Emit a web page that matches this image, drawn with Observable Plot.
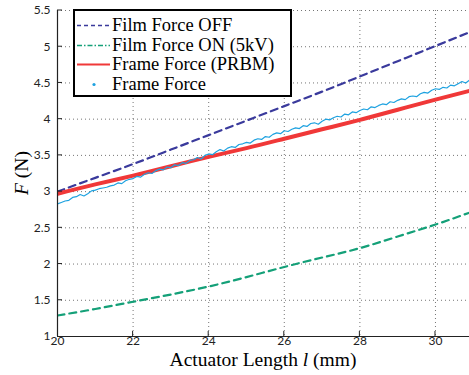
<!DOCTYPE html>
<html><head><meta charset="utf-8">
<script src="https://cdn.jsdelivr.net/npm/d3@7"></script>
<script src="https://cdn.jsdelivr.net/npm/@observablehq/plot@0.6"></script>
<style>
body{margin:0;background:#fff;}
#wrap{position:relative;width:469px;height:375px;overflow:hidden;}
#legend{position:absolute;left:73px;top:9px;width:215px;height:84px;border:2px solid #000;background:#fff;font-family:"Liberation Serif","Times New Roman",serif;font-size:18.5px;color:#000;overflow:hidden;}
#legend .row{position:absolute;left:0;height:19px;line-height:19px;white-space:nowrap;}
#legend svg{position:absolute;left:2px;top:0;}
#legend span{position:absolute;left:37px;top:0;}
</style></head><body><div id="wrap"></div>
<script>
// Model curves (sampled every 1 mm, last point at right edge)
const lengths = [20, 21, 22, 23, 24, 25, 26, 27, 28, 29, 30, 30.9];
const filmOff = [3.00, 3.19, 3.38, 3.58, 3.78, 3.98, 4.18, 4.38, 4.59, 4.80, 5.01, 5.20];
const filmOn  = [1.29, 1.38, 1.48, 1.58, 1.69, 1.82, 1.96, 2.09, 2.22, 2.38, 2.545, 2.71];
const prbm    = [2.97, 3.10, 3.22, 3.35, 3.48, 3.60, 3.73, 3.86, 3.99, 4.13, 4.27, 4.39];

// Measured frame force
const measuredLength = [20.0,20.1,20.2,20.3,20.4,20.5,20.6,20.7,20.8,20.9,
 21.0,21.1,21.2,21.3,21.4,21.5,21.6,21.7,21.8,21.9,
 22.0,22.1,22.2,22.3,22.4,22.5,22.6,22.7,22.8,22.9,
 23.0,23.1,23.2,23.3,23.4,23.5,23.6,23.7,23.8,23.9,
 24.0,24.1,24.2,24.3,24.4,24.5,24.6,24.7,24.8,24.9,
 25.0,25.1,25.2,25.3,25.4,25.5,25.6,25.7,25.8,25.9,
 26.0,26.1,26.2,26.3,26.4,26.5,26.6,26.7,26.8,26.9,
 27.0,27.1,27.2,27.3,27.4,27.5,27.6,27.7,27.8,27.9,
 28.0,28.1,28.2,28.3,28.4,28.5,28.6,28.7,28.8,28.9,
 29.0,29.1,29.2,29.3,29.4,29.5,29.6,29.7,29.8,29.9,
 30.0,30.1,30.2,30.3,30.4,30.5,30.6,30.7,30.8,30.9];
const measuredForce = [2.83,2.85,2.87,2.88,2.92,2.93,2.96,2.94,2.97,3.01,
 3.02,3.04,3.05,3.06,3.08,3.09,3.12,3.11,3.15,3.17,
 3.18,3.21,3.20,3.24,3.26,3.25,3.29,3.31,3.30,3.34,
 3.33,3.37,3.36,3.40,3.39,3.43,3.44,3.47,3.45,3.50,
 3.52,3.51,3.55,3.58,3.56,3.60,3.62,3.61,3.65,3.66,
 3.68,3.67,3.71,3.73,3.72,3.76,3.75,3.79,3.81,3.80,
 3.84,3.83,3.86,3.88,3.87,3.91,3.90,3.94,3.95,3.93,
 3.97,4.00,3.99,4.02,4.04,4.03,4.07,4.06,4.10,4.09,
 4.12,4.14,4.13,4.17,4.16,4.19,4.21,4.20,4.24,4.23,
 4.26,4.28,4.27,4.31,4.32,4.31,4.35,4.37,4.36,4.40,
 4.42,4.41,4.44,4.43,4.47,4.46,4.49,4.52,4.50,4.54];

const xTicks = [20, 22, 24, 26, 28, 30];
const yTicks = [1, 1.5, 2, 2.5, 3, 3.5, 4, 4.5, 5, 5.5];
const seriesNames = ["Film Force OFF", "Film Force ON (5kV)", "Frame Force (PRBM)", "Frame Force"];
const seriesColors = ["#3a3a9c", "#14a078", "#f03838", "#1ea2e0"];

const model = lengths.map((l, i) => ({l, off: filmOff[i], on: filmOn[i], prbm: prbm[i]}));
const measured = measuredLength.map((l, i) => ({l, f: measuredForce[i]}));

const plot = Plot.plot({
  width: 469, height: 375,
  marginLeft: 57, marginRight: 0, marginTop: 10, marginBottom: 39,
  style: {fontFamily: "Lato, 'Open Sans', sans-serif", fontSize: "12px", background: "#fff", overflow: "visible"},
  x: {domain: [20, 30.9]},
  y: {domain: [1, 5.5]},
  marks: [
    Plot.gridX(xTicks.slice(1), {stroke: "#666", strokeOpacity: 0.9, strokeDasharray: "1,3"}),
    Plot.gridY(yTicks.slice(1), {stroke: "#666", strokeOpacity: 0.9, strokeDasharray: "1,3"}),
    Plot.axisX(xTicks, {tickSize: 0, tickPadding: 0, label: null, fill: "#222", fontSize: 12}),
    Plot.axisY(yTicks, {tickSize: 0, tickPadding: 7, label: null, fill: "#222", fontSize: 12, tickFormat: d => String(d)}),
    Plot.line(model, {x: "l", y: "off", stroke: seriesColors[0], strokeWidth: 2.2, strokeDasharray: "7,5", curve: "natural", clip: true}),
    Plot.line(model, {x: "l", y: "on", stroke: seriesColors[1], strokeWidth: 2.2, strokeDasharray: "7,5", curve: "natural", clip: true}),
    Plot.line(model, {x: "l", y: "prbm", stroke: seriesColors[2], strokeWidth: 4, curve: "natural", clip: true}),
    Plot.line(measured, {x: "l", y: "f", stroke: seriesColors[3], strokeWidth: 1.2, clip: true}),
    Plot.ruleX([20], {stroke: "#222", strokeWidth: 1.2}),
    Plot.ruleY([1], {stroke: "#222", strokeWidth: 1.2})
  ]
});
document.getElementById("wrap").appendChild(plot);

// inward ticks via plot scales
const sx = plot.scale("x"), sy = plot.scale("y");
const svg = d3.select(plot);
const g = svg.append("g").attr("stroke", "#222").attr("stroke-width", 1);
const y0 = sy.apply(1), x0 = sx.apply(20);
xTicks.slice(1).forEach(t => g.append("line").attr("x1", sx.apply(t)).attr("x2", sx.apply(t)).attr("y1", y0).attr("y2", y0 - 5));
yTicks.slice(1).forEach(t => g.append("line").attr("y1", sy.apply(t)).attr("y2", sy.apply(t)).attr("x1", x0).attr("x2", x0 + 5));

// axis titles
const serif = "'Liberation Serif','Times New Roman',serif";
const xt = svg.append("text").attr("x", (x0 + 469) / 2).attr("y", 366).attr("text-anchor", "middle")
  .attr("font-family", serif).attr("font-size", 19.5).attr("fill", "#000");
xt.append("tspan").text("Actuator Length ");
xt.append("tspan").attr("font-style", "italic").text("l");
xt.append("tspan").text(" (mm)");
const yc = (sy.apply(1) + sy.apply(5.5)) / 2;
const yt = svg.append("text").attr("transform", `translate(28,${yc}) rotate(-90)`).attr("text-anchor", "middle")
  .attr("font-family", serif).attr("font-size", 19.5).attr("fill", "#000");
yt.append("tspan").attr("font-style", "italic").text("F");
yt.append("tspan").text(" (N)");

// legend
const legend = document.createElement("div");
legend.id = "legend";
const rowsTop = [5, 24.5, 44, 63.5];
seriesNames.forEach((name, i) => {
  const row = document.createElement("div");
  row.className = "row";
  row.style.top = rowsTop[i] + "px";
  let sample;
  if (i < 2) sample = `<line x1="0" x2="33" y1="9.5" y2="9.5" stroke="${seriesColors[i]}" stroke-width="1.5" stroke-dasharray="${i === 0 ? '4,3' : '5,2,1.5,2'}"/>`;
  else if (i === 2) sample = `<line x1="0" x2="33" y1="9.5" y2="9.5" stroke="${seriesColors[i]}" stroke-width="1.8"/>`;
  else sample = `<circle cx="17" cy="9.5" r="1.6" fill="${seriesColors[i]}"/>`;
  row.innerHTML = `<svg width="34" height="19">${sample}</svg><span>${name}</span>`;
  legend.appendChild(row);
});
document.getElementById("wrap").appendChild(legend);
</script>
</body></html>
